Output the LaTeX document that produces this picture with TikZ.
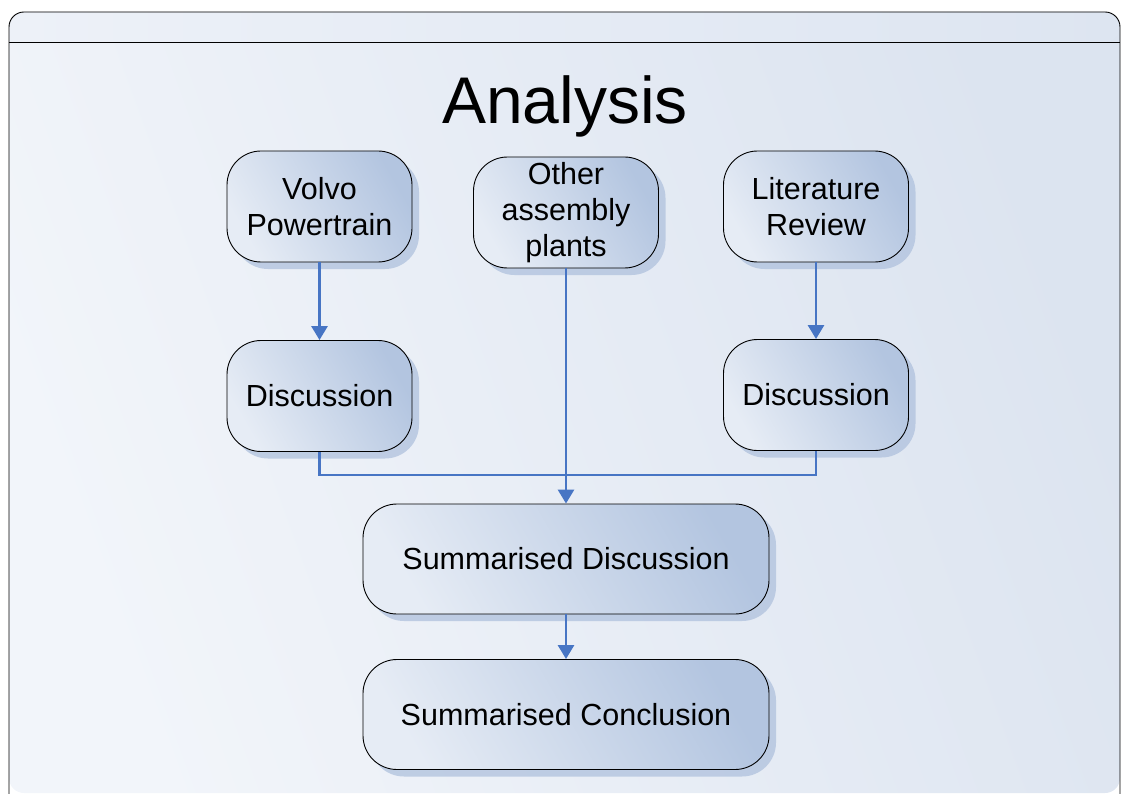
\documentclass[tikz,border=0pt]{standalone}
\usepackage{fontspec}
\setmainfont{Liberation Sans}
\usetikzlibrary{arrows.meta,shadows}
\definecolor{bgA}{HTML}{F2F5FA}
\definecolor{bgB}{HTML}{DCE4F0}
\definecolor{hdA}{HTML}{EDF1F8}
\definecolor{hdB}{HTML}{DDE5F1}
\definecolor{boxA}{HTML}{E6ECF5}
\definecolor{boxB}{HTML}{B3C5E0}
\definecolor{shad}{HTML}{AFC1DD}
\definecolor{conn}{HTML}{4775C4}
\tikzset{
  box/.style={draw=black, line width=0.9pt, rounded corners=34pt,
    left color=boxA, right color=boxB, shading angle=120,
    minimum width=185pt, minimum height=111pt, align=center,
    font=\fontsize{30.5}{36}\selectfont,
    drop shadow={shadow xshift=7pt, shadow yshift=-7pt, fill=shad, opacity=0.75}},
  widebox/.style={box, minimum width=406pt, minimum height=110pt},
  link/.style={draw=conn, line width=2.8pt},
  arr/.style={link, -{Triangle[length=14pt,width=16pt]}}
}
\begin{document}
\begin{tikzpicture}[x=1pt,y=-1pt]
\useasboundingbox (0,0) rectangle (1123,794);
% frame
\path[left color=bgA, right color=bgB, shading angle=110, rounded corners=15pt]
  (9,12) rectangle (1120,793);
\path[left color=hdA, right color=hdB, shading angle=90, rounded corners=15pt]
  (9,42) -- (9,12) -- (1120,12) -- (1120,42) [sharp corners] -- cycle;
\draw[line width=0.9pt, rounded corners=15pt] (9,800) -- (9,12) -- (1120,12) -- (1120,800);
\draw[line width=0.9pt] (9,42) -- (1120,42);
\node (title) at (565,106) {\fontsize{66}{72}\selectfont Analysis};
% nodes
\node[box] (vp) at (319.5,206.5) {Volvo\\Powertrain};
\node[box] (oap) at (566,212.5) {Other\\assembly\\plants};
\node[box] (lr) at (816,206.5) {Literature\\Review};
\node[box] (dl) at (319.5,396) {Discussion};
\node[box] (dr) at (816,395) {Discussion};
\node[widebox] (sd) at (566,559) {Summarised Discussion};
\node[widebox] (sc) at (566,714.5) {Summarised Conclusion};
\coordinate (j) at (566,475);
% connectors
\draw[arr] (vp.south) -- (dl.north);
\draw[arr] (lr.south) -- (dr.north);
\draw[link] (dl.south) |- (j);
\draw[link] (dr.south) |- (j);
\draw[arr] (oap.south) -- (sd.north);
\draw[arr] (sd.south) -- (sc.north);
\end{tikzpicture}
\end{document}
